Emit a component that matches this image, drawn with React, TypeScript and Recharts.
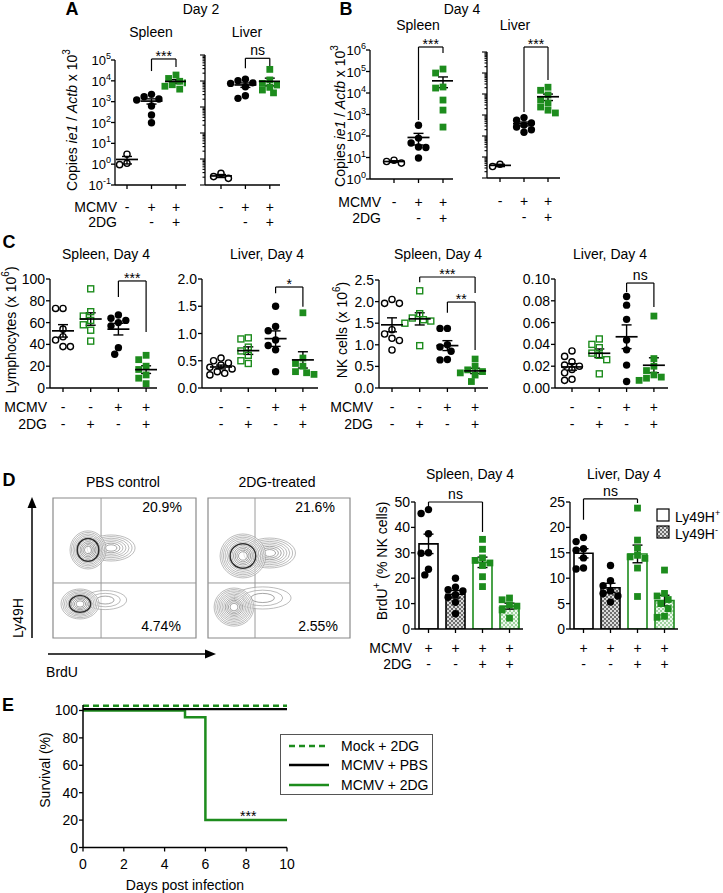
import React from 'react';
import {
  ComposedChart, LineChart, Line, Scatter, Bar, Cell, XAxis, YAxis, ErrorBar,
  ReferenceLine, ReferenceDot, ReferenceArea, Legend,
} from 'recharts';

const FONT = "'Liberation Sans', Arial, Helvetica, sans-serif";
const GREEN = '#1d8c1d';

// ---------------- Panel A (Day 2, copies ie1/Actb x10^3) ----------------
const aSpleenUninfected = [3.0, 1.1, 0.95];
const aSpleenMcmv = [2240, 1730, 1340, 1200, 620, 230, 97];
const aSpleenMcmv2dg = [19000, 13000, 9500, 8000, 6500, 5500, 4000];
const aLiverUninfected = [2.8, 2.1, 1.8];
const aLiverMcmv = [11700, 10200, 8500, 8100, 6000, 2700, 2150];
const aLiverMcmv2dg = [28000, 11000, 8100, 7000, 5700, 4500, 3500];
const abMcmvSigns = ['-', '+', '+'];
const ab2dgSigns = ['', '-', '+'];

// ---------------- Panel B (Day 4) ----------------
const bSpleenUninfected = [5.5, 6.5, 7.5];
const bSpleenMcmv = [316, 80, 47, 31, 29, 9.5];
const bSpleenMcmv2dg = [130000, 85000, 19000, 17000, 4700, 1600, 260];
const bLiverUninfected = [4.5, 3.5];
const bLiverMcmv = [750, 560, 420, 330, 270, 200, 150];
const bLiverMcmv2dg = [21000, 15000, 9000, 5200, 3700, 2400, 1700, 1250];

// ---------------- Panel C ----------------
const cMcmvSigns = ['-', '-', '+', '+'];
const c2dgSigns = ['-', '+', '-', '+'];
const cSpleenLymph = {
  pbs: [73, 73, 54, 47, 44, 38, 38],
  dg: [91, 70, 66, 62, 58, 53, 43],
  mcmv: [67, 64, 62, 60, 57, 37, 31],
  mcmvDg: [30, 26, 20, 17, 12, 9, 4],
};
const cLiverLymph = {
  pbs: [0.55, 0.5, 0.46, 0.42, 0.38, 0.35, 0.3, 0.27, 0.24],
  dg: [0.92, 0.9, 0.75, 0.68, 0.6, 0.5, 0.45],
  mcmv: [1.5, 1.13, 1.05, 0.88, 0.78, 0.7, 0.3],
  mcmvDg: [1.38, 0.55, 0.45, 0.4, 0.3, 0.28, 0.25],
};
const cSpleenNk = {
  pbs: [2.05, 1.96, 1.96, 1.35, 1.25, 1.15, 1.1, 0.88],
  dg: [2.25, 1.72, 1.62, 1.58, 1.55, 1.5, 0.98],
  mcmv: [1.38, 1.38, 1.0, 0.95, 0.85, 0.66, 0.65],
  mcmvDg: [0.67, 0.5, 0.42, 0.38, 0.35, 0.3, 0.15],
};
const cLiverNk = {
  pbs: [0.034, 0.029, 0.024, 0.021, 0.02, 0.017, 0.014, 0.008, 0.007],
  dg: [0.045, 0.04, 0.037, 0.032, 0.03, 0.026, 0.013],
  mcmv: [0.084, 0.076, 0.063, 0.044, 0.035, 0.021, 0.006],
  mcmvDg: [0.066, 0.027, 0.02, 0.016, 0.012, 0.01, 0.009, 0.007],
};

// ---------------- Panel D ----------------
const pbsPopulations = [
  { x: 40.6, y: 64.3, rx: 16.8, ry: 9.3, rings: 7, dark: false },
  { x: 24.5, y: 62.9, rx: 12.6, ry: 13.6, rings: 11, dark: true },
  { x: 36.5, y: 27.1, rx: 15, ry: 6.8, rings: 3, dark: false },
  { x: 18.9, y: 24.3, rx: 13.3, ry: 10.7, rings: 10, dark: true },
];
const dgPopulations = [
  { x: 43.4, y: 60.7, rx: 18.2, ry: 10.7, rings: 8, dark: false },
  { x: 24.6, y: 58.6, rx: 16.1, ry: 15.7, rings: 12, dark: true },
  { x: 38.5, y: 28.6, rx: 20, ry: 7.9, rings: 3, dark: false },
  { x: 18.3, y: 22.1, rx: 14, ry: 13.6, rings: 11, dark: false },
];
const flowPercents = { pbsUpper: '20.9%', pbsLower: '4.74%', dgUpper: '21.6%', dgLower: '2.55%' };
const dMcmvSigns = ['+', '+', '+', '+'];
const d2dgSigns = ['-', '-', '+', '+'];
const dSpleenBrdu = {
  hPos: [47, 45.5, 37.5, 30, 29.8, 23.5, 21.3],
  hNeg: [20, 16.5, 15.5, 15, 13.5, 12.5, 10.5, 6],
  hPosDg: [35.3, 31.4, 28, 27, 26, 25, 20.6, 16.7],
  hNegDg: [12.2, 11.5, 9.5, 9, 7.5, 4.3],
};
const dLiverBrdu = {
  hPos: [18, 17.2, 15.8, 15.5, 14, 12, 11.8],
  hNeg: [12.5, 9.5, 8.5, 7.5, 7, 6.5, 5.3],
  hPosDg: [23.8, 17.5, 15.9, 14.5, 14.2, 13.9, 12, 6.4],
  hNegDg: [11.6, 7, 6.5, 5.8, 5, 4, 2.5, 2.3],
};

// ---------------- Panel E ----------------
const survMock2dg = [{ d: 0, s: 103.5 }, { d: 10, s: 103.5 }];
const survMcmvPbs = [{ d: 0, s: 101 }, { d: 10, s: 101 }];
const survMcmv2dg = [{ d: 0, s: 100 }, { d: 5, s: 95 }, { d: 6, s: 20 }, { d: 10, s: 20 }];
const survTicksX = [0, 2, 4, 6, 8, 10];
const survTicksY = [0, 20, 40, 60, 80, 100];

// ---------------- helpers ----------------
const mean = (a: number[]) => a.reduce((s, v) => s + v, 0) / a.length;
const sem = (a: number[]) => {
  const m = mean(a);
  return Math.sqrt(a.reduce((s, v) => s + (v - m) ** 2, 0) / (a.length - 1)) / Math.sqrt(a.length);
};

function swarm(values: number[], toPx: (v: number) => number, d: number) {
  const order = values.map((_, i) => i).sort((a, b) => values[b] - values[a]);
  const placed: { o: number; p: number }[] = [];
  const offs = values.map(() => 0);
  const cands: number[] = [0];
  for (let k = 1; k <= 12; k++) cands.push(-k * d * 0.5, k * d * 0.5);
  order.forEach((i) => {
    const p = toPx(values[i]);
    const o = cands.find((c) => placed.every((q) => (q.o - c) ** 2 + (q.p - p) ** 2 >= d * d * 0.8));
    const oo = o === undefined ? 0 : o;
    offs[i] = oo;
    placed.push({ o: oo, p });
  });
  return offs;
}

function logTicks(lo: number, hi: number, minor: boolean) {
  const out: number[] = [];
  const e0 = Math.round(Math.log10(lo));
  const e1 = Math.round(Math.log10(hi));
  for (let e = e0; e <= e1; e++) {
    out.push(Math.pow(10, e));
    if (minor && e < e1) for (let k = 2; k <= 9; k++) out.push(k * Math.pow(10, e));
  }
  return out;
}

function marker(kind: string, color: string, cx: number, cy: number) {
  if (kind === 'fc') return <circle cx={cx} cy={cy} r={3.7} fill={color} />;
  if (kind === 'oc') return <circle cx={cx} cy={cy} r={3.1} fill="none" stroke={color} strokeWidth={1.4} />;
  if (kind === 'fs') return <rect x={cx - 3.4} y={cy - 3.4} width={6.8} height={6.8} fill={color} />;
  return <rect x={cx - 3} y={cy - 3} width={6} height={6} fill="none" stroke={color} strokeWidth={1.4} />;
}

const SignTick = (p: any) => {
  const { x, y, payload, rows, rowDy } = p;
  const i = Math.round(payload.value) - 1;
  return (
    <g>
      <line x1={x} x2={x} y1={y} y2={y + 4} stroke="#000" strokeWidth={1.3} />
      {rows.map((r: string[], k: number) => (
        <text key={k} x={x} y={y + rowDy[k]} textAnchor="middle" dominantBaseline="central"
          fontSize={14} fontFamily={FONT} fill="#000">{r[i]}</text>
      ))}
    </g>
  );
};

const ValueTick = (p: any) => {
  const { x, y, payload, kind, decimals, fontSize } = p;
  const v = payload.value;
  if (kind === 'minor') {
    const lv = Math.log10(v);
    const major = Math.abs(lv - Math.round(lv)) < 1e-6;
    return <line x1={x} x2={x - (major ? 5 : 2.5)} y1={y} y2={y} stroke="#000" strokeWidth={1.1} />;
  }
  if (kind === 'pow') {
    const e = Math.round(Math.log10(v));
    return (
      <g>
        <line x1={x} x2={x - 4} y1={y} y2={y} stroke="#000" strokeWidth={1.3} />
        <text x={x - 4} y={y + 5} textAnchor="end" fontSize={13} fontFamily={FONT} fill="#000">
          10<tspan dy={-6} fontSize={9}>{e}</tspan>
        </text>
      </g>
    );
  }
  return (
    <g>
      <line x1={x} x2={x - 4} y1={y} y2={y} stroke="#000" strokeWidth={1.3} />
      <text x={x - 5} y={y} textAnchor="end" dominantBaseline="central" fontSize={fontSize || 14}
        fontFamily={FONT} fill="#000">{v.toFixed(decimals || 0)}</text>
    </g>
  );
};

function bracketElements(brackets: any[], prefix: string) {
  const st = { stroke: '#000', strokeWidth: 1.2 };
  return brackets.flatMap((b, i) => [
    <ReferenceLine key={prefix + 'h' + i} segment={[{ x: b.from, y: b.top }, { x: b.to, y: b.top }]} {...st} ifOverflow="visible" />,
    <ReferenceLine key={prefix + 'l' + i} segment={[{ x: b.from, y: b.top }, { x: b.from, y: b.fromEnd }]} {...st} ifOverflow="visible" />,
    <ReferenceLine key={prefix + 'r' + i} segment={[{ x: b.to, y: b.top }, { x: b.to, y: b.toEnd }]} {...st} ifOverflow="visible" />,
    <ReferenceDot key={prefix + 't' + i} x={(b.from + b.to) / 2} y={b.top} r={0} ifOverflow="visible"
      shape={(p: any) => (
        <text x={p.cx} y={p.cy + (b.label.indexOf('*') >= 0 ? 2 : -3)} textAnchor="middle" fontSize={14}
          fontFamily={FONT} fill="#000">{b.label}</text>
      )} />,
  ]);
}

const AX = { stroke: '#000', strokeWidth: 1.3 };

function DotPlot(props: any) {
  const { left, top, width, height, c1, step, groups, domain, log, tickKind, decimals, rows, rowDy, brackets, id } = props;
  const YW = 70, XH = 60, MT = 40, MR = 10;
  const xmin = 1 - (c1 - left) / step;
  const xmax = 1 + (left + width - c1) / step;
  const toPx = (v: number) => log
    ? (Math.log10(v) - Math.log10(domain[0])) / (Math.log10(domain[1]) - Math.log10(domain[0])) * height
    : (v - domain[0]) / (domain[1] - domain[0]) * height;
  const series = groups.map((g: any, i: number) => {
    const offs = swarm(g.values, toPx, 7.4);
    return g.values.map((v: number, j: number) => ({ x: i + 1 + offs[j] / step, y: v }));
  });
  const means = groups.map((g: any, i: number) => {
    const m = mean(g.values);
    const s = sem(g.values);
    return { x: i + 1, y: m, err: log ? [Math.min(s, m * 0.9), s] : s };
  });
  const yTicks = log ? logTicks(domain[0], domain[1], tickKind === 'minor') : props.ticks;
  return (
    <div style={{ position: 'absolute', left: left - YW, top: top - MT }}>
      <ComposedChart width={YW + width + MR} height={MT + height + XH} margin={{ top: MT, right: MR, bottom: 0, left: 0 }}>
        <XAxis type="number" dataKey="x" domain={[xmin, xmax]} allowDataOverflow ticks={groups.map((_: any, i: number) => i + 1)}
          interval={0} height={XH} tickSize={0} tickMargin={0} axisLine={AX}
          tick={(p: any) => <SignTick {...p} rows={rows} rowDy={rowDy} />} />
        <YAxis type="number" dataKey="y" width={YW} scale={log ? 'log' : 'linear'} domain={domain} allowDataOverflow
          ticks={yTicks} interval={0} tickSize={0} tickMargin={0} axisLine={AX}
          tick={(p: any) => <ValueTick {...p} kind={tickKind} decimals={decimals} />} />
        {series.map((data: any[], i: number) => (
          <Scatter key={id + 's' + i} data={data} isAnimationActive={false}
            shape={(p: any) => marker(groups[i].marker, groups[i].color, p.cx, p.cy)} />
        ))}
        <Scatter data={means} isAnimationActive={false}
          shape={(p: any) => <line x1={p.cx - 11} x2={p.cx + 11} y1={p.cy} y2={p.cy} stroke="#000" strokeWidth={1.7} />}>
          <ErrorBar dataKey="err" direction="y" width={5} stroke="#000" strokeWidth={1.4} isAnimationActive={false} />
        </Scatter>
        {bracketElements(brackets, id)}
      </ComposedChart>
    </div>
  );
}

function BarPlot(props: any) {
  const { left, top, width, height, bars, domain, ticks, rows, rowDy, brackets, id, legend } = props;
  const YW = 70, XH = 60, MT = 40, MR = legend ? 50 : 10;
  const step = width / bars.length;
  const toPx = (v: number) => (v - domain[0]) / (domain[1] - domain[0]) * height;
  const barData = bars.map((b: any, i: number) => ({ name: String(i + 1), x: i + 1, y: mean(b.values) }));
  const series = bars.map((b: any, i: number) => {
    const offs = swarm(b.values, toPx, 7.4);
    return b.values.map((v: number, j: number) => ({ x: i + 1 + offs[j] / step, y: v }));
  });
  const errs = bars.map((b: any, i: number) => ({ x: i + 1, y: mean(b.values), err: sem(b.values) }));
  return (
    <div style={{ position: 'absolute', left: left - YW, top: top - MT }}>
      <ComposedChart width={YW + width + MR} height={MT + height + XH} data={barData}
        margin={{ top: MT, right: MR, bottom: 0, left: 0 }} barCategoryGap={0}>
        <XAxis xAxisId="cat" type="category" dataKey="name" hide />
        <XAxis type="number" dataKey="x" domain={[0.5, bars.length + 0.5]} allowDataOverflow ticks={bars.map((_: any, i: number) => i + 1)}
          interval={0} height={XH} tickSize={0} tickMargin={0} axisLine={AX}
          tick={(p: any) => <SignTick {...p} rows={rows} rowDy={rowDy} />} />
        <YAxis type="number" dataKey="y" width={YW} domain={domain} allowDataOverflow ticks={ticks} interval={0}
          tickSize={0} tickMargin={0} axisLine={AX} tick={(p: any) => <ValueTick {...p} kind="fixed" decimals={0} />} />
        <Bar xAxisId="cat" dataKey="y" barSize={19} isAnimationActive={false}>
          {bars.map((b: any, i: number) => <Cell key={i} fill={b.fill} stroke={b.stroke} strokeWidth={1.6} />)}
        </Bar>
        {series.map((data: any[], i: number) => (
          <Scatter key={id + 's' + i} data={data} isAnimationActive={false}
            shape={(p: any) => marker(bars[i].marker, bars[i].color, p.cx, p.cy)} />
        ))}
        <Scatter data={errs} isAnimationActive={false} shape={() => <g />}>
          <ErrorBar dataKey="err" direction="y" width={5} stroke="#000" strokeWidth={1.4} isAnimationActive={false} />
        </Scatter>
        {bracketElements(brackets, id)}
        {legend ? (
          <Legend layout="vertical" align="center" verticalAlign="middle"
            wrapperStyle={{ left: legend.left, top: legend.top, width: 70, height: 36 }}
            content={() => (
              <div style={{ fontFamily: FONT, fontSize: 14, lineHeight: '18px' }}>
                {legend.items.map((it: any, k: number) => (
                  <div key={k} style={{ display: 'flex', alignItems: 'center', height: 17 }}>
                    <svg width={15} height={14} style={{ marginRight: 4 }}>
                      <rect x={1} y={1} width={12} height={12} fill={it.fill} stroke="#000" strokeWidth={1.2} />
                    </svg>
                    <span>{it.name}<sup style={{ fontSize: 9 }}>{it.sup}</sup></span>
                  </div>
                ))}
              </div>
            )} />
        ) : null}
      </ComposedChart>
    </div>
  );
}

const flowTicks = [10, 35, 60, 85].flatMap((b) => [b, ...[2, 3, 4, 5, 6, 7, 8, 9].map((k) => b + 25 * Math.log10(k))]).filter((t) => t < 100);

const contourShape = (pxX: number, pxY: number) => (p: any) => {
  const { cx, cy, payload } = p;
  const { rx, ry, rings, dark } = payload;
  const darkIdx = Math.round(rings * 0.5);
  const els: any[] = [];
  for (let k = rings; k >= 1; k--) {
    const s = 0.12 + 0.88 * (k / rings);
    const isDark = dark && k === darkIdx;
    const inner = k <= rings * 0.4;
    els.push(
      <ellipse key={k} cx={cx} cy={cy} rx={rx * pxX * s} ry={ry * pxY * s} fill={k === rings ? '#fff' : 'none'}
        fillOpacity={0.6}
        stroke={isDark ? '#2e2e2e' : inner ? '#6a6a6a' : '#8e8e8e'} strokeWidth={isDark ? 1.5 : 0.6} />
    );
  }
  return <g>{els}</g>;
};

function FlowPlot(props: any) {
  const { left, top, width, height, populations, gateX, gateY } = props;
  const M = 6;
  return (
    <div style={{ position: 'absolute', left: left - M, top: top - M }}>
      <ComposedChart width={width + 2 * M} height={height + 2 * M} margin={{ top: M, right: M, bottom: M, left: M }}>
        <XAxis type="number" dataKey="x" domain={[0, 100]} allowDataOverflow height={0} axisLine={false}
          ticks={flowTicks} interval={0} tickSize={0} tickMargin={0}
          tick={(p: any) => <line x1={p.x} x2={p.x} y1={p.y} y2={p.y + 3} stroke="#777" strokeWidth={0.8} />} />
        <YAxis type="number" dataKey="y" domain={[0, 100]} allowDataOverflow width={0} axisLine={false}
          ticks={flowTicks} interval={0} tickSize={0} tickMargin={0}
          tick={(p: any) => <line x1={p.x} x2={p.x - 3} y1={p.y} y2={p.y} stroke="#777" strokeWidth={0.8} />} />
        <ReferenceArea x1={0} x2={100} y1={0} y2={100} fill="none" stroke="#8a8a8a" strokeWidth={1.2} ifOverflow="visible" />
        <ReferenceLine x={gateX} stroke="#9a9a9a" strokeWidth={1} />
        <ReferenceLine y={gateY} stroke="#9a9a9a" strokeWidth={1} />
        <Scatter data={populations} isAnimationActive={false} shape={contourShape(width / 100, height / 100)} />
      </ComposedChart>
    </div>
  );
}

const survSeries = [
  { name: 'Mock + 2DG', data: survMock2dg, color: GREEN, dash: '6 4' },
  { name: 'MCMV + PBS', data: survMcmvPbs, color: '#000', dash: undefined },
  { name: 'MCMV + 2DG', data: survMcmv2dg, color: GREEN, dash: undefined },
];

function SurvivalPlot() {
  const left = 83, top = 704.5, width = 204, height = 142.5;
  const YW = 60, XH = 60, MT = 20, MR = 170;
  return (
    <div style={{ position: 'absolute', left: left - YW, top: top - MT }}>
      <LineChart width={YW + width + MR} height={MT + height + XH} margin={{ top: MT, right: MR, bottom: 0, left: 0 }}>
        <XAxis type="number" dataKey="d" domain={[0, 10]} ticks={survTicksX} interval={0} height={XH}
          tickSize={0} tickMargin={0} axisLine={{ stroke: '#000', strokeWidth: 1.5 }}
          tick={(p: any) => (
            <g>
              <line x1={p.x} x2={p.x} y1={p.y} y2={p.y + 4} stroke="#000" strokeWidth={1.3} />
              <text x={p.x} y={p.y + 16} textAnchor="middle" dominantBaseline="central" fontSize={14} fontFamily={FONT}>{p.payload.value}</text>
            </g>
          )} />
        <YAxis type="number" domain={[0, 104]} ticks={survTicksY} interval={0} width={YW} tickSize={0} tickMargin={0}
          axisLine={{ stroke: '#000', strokeWidth: 1.5 }}
          tick={(p: any) => <ValueTick {...p} kind="fixed" decimals={0} />} />
        {[2, 1, 0].map((k) => (
          <Line key={k} data={survSeries[k].data} dataKey="s" type="stepAfter" stroke={survSeries[k].color}
            strokeWidth={k === 1 ? 2.2 : 2.5} strokeDasharray={survSeries[k].dash} dot={false} isAnimationActive={false} />
        ))}
        <ReferenceDot x={8.1} y={20} r={0} ifOverflow="visible"
          shape={(p: any) => <text x={p.cx} y={p.cy + 1} textAnchor="middle" fontSize={14} fontFamily={FONT}>***</text>} />
        <Legend layout="vertical" align="center" verticalAlign="middle"
          wrapperStyle={{ left: 257, top: 49.5, width: 153, height: 61 }}
          content={() => (
            <div style={{ width: 153, height: 61, border: '1.2px solid #555', boxSizing: 'border-box', background: '#fff',
              fontFamily: FONT, fontSize: 14, paddingTop: 1 }}>
              {survSeries.map((s, k) => (
                <div key={k} style={{ display: 'flex', alignItems: 'center', height: 19.5 }}>
                  <svg width={50} height={10} style={{ marginLeft: 6, marginRight: 4 }}>
                    <line x1={2} x2={42} y1={5} y2={5} stroke={s.color} strokeWidth={2.5} strokeDasharray={s.dash} />
                  </svg>
                  <span>{s.name}</span>
                </div>
              ))}
            </div>
          )} />
      </LineChart>
    </div>
  );
}

function T(props: any) {
  const { x, y, children, anchor, size, bold, rotate } = props;
  return (
    <text x={x} y={y} textAnchor={anchor || 'middle'} dominantBaseline="central" fontSize={size || 14}
      fontWeight={bold ? 'bold' : 'normal'} fontFamily={FONT} fill="#000"
      transform={rotate ? `rotate(-90 ${x} ${y})` : undefined}>{children}</text>
  );
}

const groups4 = (d: any) => [
  { values: d.pbs, marker: 'oc', color: '#000' },
  { values: d.dg, marker: 'os', color: GREEN },
  { values: d.mcmv, marker: 'fc', color: '#000' },
  { values: d.mcmvDg, marker: 'fs', color: GREEN },
];
const bars4 = (d: any) => [
  { values: d.hPos, marker: 'fc', color: '#000', fill: '#fff', stroke: '#000' },
  { values: d.hNeg, marker: 'fc', color: '#000', fill: 'url(#chkGray)', stroke: '#000' },
  { values: d.hPosDg, marker: 'fs', color: GREEN, fill: '#fff', stroke: GREEN },
  { values: d.hNegDg, marker: 'fs', color: GREEN, fill: 'url(#chkGreen)', stroke: GREEN },
];

export default function App() {
  const abRows = [abMcmvSigns, ab2dgSigns];
  const cRows = [cMcmvSigns, c2dgSigns];
  const dRows = [dMcmvSigns, d2dgSigns];
  return (
    <div style={{ position: 'absolute', left: 0, top: 0, width: 723, height: 893, background: '#fff', overflow: 'hidden', fontFamily: FONT }}>
      <svg width={0} height={0} style={{ position: 'absolute' }}>
        <defs>
          <pattern id="chkGray" width={4} height={4} patternUnits="userSpaceOnUse">
            <rect width={4} height={4} fill="#dcdcdc" />
            <rect width={2} height={2} fill="#6e6e6e" />
            <rect x={2} y={2} width={2} height={2} fill="#6e6e6e" />
          </pattern>
          <pattern id="chkGreen" width={4} height={4} patternUnits="userSpaceOnUse">
            <rect width={4} height={4} fill="#eef8ee" />
            <rect width={2} height={2} fill="#9fd29f" />
            <rect x={2} y={2} width={2} height={2} fill="#9fd29f" />
          </pattern>
        </defs>
      </svg>

      {/* Panel A */}
      <DotPlot id="as" left={115} top={60} width={71} height={125} c1={127} step={24.5} log domain={[0.1, 1e5]} tickKind="pow"
        groups={[
          { values: aSpleenUninfected, marker: 'oc', color: '#000' },
          { values: aSpleenMcmv, marker: 'fc', color: '#000' },
          { values: aSpleenMcmv2dg, marker: 'fs', color: GREEN },
        ]}
        rows={abRows} rowDy={[22, 37]}
        brackets={[{ from: 2, to: 3, top: 1.12e5, fromEnd: 29500, toEnd: 46000, label: '***' }]} />
      <DotPlot id="al" left={205} top={55} width={75} height={130} c1={221} step={24.4} log domain={[1, 1e5]} tickKind="minor"
        groups={[
          { values: aLiverUninfected, marker: 'oc', color: '#000' },
          { values: aLiverMcmv, marker: 'fc', color: '#000' },
          { values: aLiverMcmv2dg, marker: 'fs', color: GREEN },
        ]}
        rows={abRows} rowDy={[22, 37]}
        brackets={[{ from: 2, to: 3, top: 74600, fromEnd: 31000, toEnd: 33700, label: 'ns' }]} />

      {/* Panel B */}
      <DotPlot id="bs" left={370} top={50} width={83} height={129} c1={394} step={24.5} log domain={[1, 1e6]} tickKind="pow"
        groups={[
          { values: bSpleenUninfected, marker: 'oc', color: '#000' },
          { values: bSpleenMcmv, marker: 'fc', color: '#000' },
          { values: bSpleenMcmv2dg, marker: 'fs', color: GREEN },
        ]}
        rows={abRows} rowDy={[23, 39]}
        brackets={[{ from: 2, to: 3, top: 1.38e6, fromEnd: 550, toEnd: 7.2e5, label: '***' }]} />
      <DotPlot id="bl" left={487} top={52} width={73} height={126} c1={500} step={24} log domain={[1, 1e6]} tickKind="minor"
        groups={[
          { values: bLiverUninfected, marker: 'oc', color: '#000' },
          { values: bLiverMcmv, marker: 'fc', color: '#000' },
          { values: bLiverMcmv2dg, marker: 'fs', color: GREEN },
        ]}
        rows={abRows} rowDy={[23, 39]}
        brackets={[{ from: 2, to: 3, top: 1.73e6, fromEnd: 1400, toEnd: 46000, label: '***' }]} />

      {/* Panel C */}
      <DotPlot id="c1" left={50} top={279} width={107} height={109} c1={63} step={27.7} domain={[0, 100]}
        ticks={[0, 20, 40, 60, 80, 100]} tickKind="fixed" decimals={0} groups={groups4(cSpleenLymph)}
        rows={cRows} rowDy={[19, 36]}
        brackets={[{ from: 3, to: 4, top: 98.2, fromEnd: 83.5, toEnd: 51.4, label: '***' }]} />
      <DotPlot id="c2" left={202} top={279} width={116} height={109} c1={221} step={27.3} domain={[0, 2]}
        ticks={[0, 0.5, 1, 1.5, 2]} tickKind="fixed" decimals={1} groups={groups4(cLiverLymph)}
        rows={cRows} rowDy={[19, 36]}
        brackets={[{ from: 3, to: 4, top: 1.853, fromEnd: 1.74, toEnd: 1.49, label: '*' }]} />
      <DotPlot id="c3" left={379} top={280} width={109} height={108} c1={392} step={27.7} domain={[0, 2.5]}
        ticks={[0, 0.5, 1, 1.5, 2, 2.5]} tickKind="fixed" decimals={1} groups={groups4(cSpleenNk)}
        rows={cRows} rowDy={[19, 36]}
        brackets={[
          { from: 2, to: 4, top: 2.57, fromEnd: 2.45, toEnd: 2.2, label: '***' },
          { from: 3, to: 4, top: 1.99, fromEnd: 1.74, toEnd: 0.88, label: '**' },
        ]} />
      <DotPlot id="c4" left={555} top={279} width={113} height={109} c1={572} step={27.3} domain={[0, 0.1]}
        ticks={[0, 0.02, 0.04, 0.06, 0.08, 0.1]} tickKind="fixed" decimals={2} groups={groups4(cLiverNk)}
        rows={cRows} rowDy={[19, 36]}
        brackets={[{ from: 3, to: 4, top: 0.0963, fromEnd: 0.088, toEnd: 0.0743, label: 'ns' }]} />

      {/* Panel D */}
      <FlowPlot left={53} top={498} width={143} height={140} populations={pbsPopulations} gateX={33.6} gateY={39.3} />
      <FlowPlot left={208} top={498} width={142} height={140} populations={dgPopulations} gateX={33.1} gateY={39.3} />
      <BarPlot id="d1" left={415} top={502} width={108} height={127} domain={[0, 50]}
        ticks={[0, 10, 20, 30, 40, 50]} bars={bars4(dSpleenBrdu)} rows={dRows} rowDy={[19, 35]}
        brackets={[{ from: 1, to: 3, top: 50, fromEnd: 47.6, toEnd: 38.2, label: 'ns' }]} />
      <BarPlot id="d2" left={570} top={502} width={108} height={127} domain={[0, 25]}
        ticks={[0, 5, 10, 15, 20, 25]} bars={bars4(dLiverBrdu)} rows={dRows} rowDy={[19, 35]}
        brackets={[{ from: 1, to: 3, top: 25.6, fromEnd: 21.5, toEnd: 24.8, label: 'ns' }]}
        legend={{
          left: 156, top: 44,
          items: [
            { name: 'Ly49H', sup: '+', fill: '#fff' },
            { name: 'Ly49H', sup: '-', fill: 'url(#chkGray)' },
          ],
        }} />

      {/* Panel E */}
      <SurvivalPlot />

      {/* Text overlay */}
      <svg width={723} height={893} style={{ position: 'absolute', left: 0, top: 0, pointerEvents: 'none' }}>
        {/* A */}
        <T x={72} y={9} size={18} bold>A</T>
        <T x={201} y={9}>Day 2</T>
        <T x={151} y={32}>Spleen</T>
        <T x={247} y={32}>Liver</T>
        <T x={72} y={120} rotate>Copies <tspan fontStyle="italic">ie1</tspan> / <tspan fontStyle="italic">Actb</tspan> x 10<tspan dy={-6} fontSize={10}>3</tspan></T>
        <T x={117} y={207} anchor="end">MCMV</T>
        <T x={117} y={222} anchor="end">2DG</T>
        {/* B */}
        <T x={346} y={9} size={18} bold>B</T>
        <T x={462} y={9}>Day 4</T>
        <T x={418} y={25}>Spleen</T>
        <T x={515} y={25}>Liver</T>
        <T x={340} y={116} rotate>Copies <tspan fontStyle="italic">ie1</tspan> / <tspan fontStyle="italic">Actb</tspan> x 10<tspan dy={-6} fontSize={10}>3</tspan></T>
        <T x={381} y={202} anchor="end">MCMV</T>
        <T x={381} y={218} anchor="end">2DG</T>
        {/* C */}
        <T x={9} y={242} size={18} bold>C</T>
        <T x={106} y={254}>Spleen,  Day 4</T>
        <T x={267} y={254}>Liver,  Day 4</T>
        <T x={438} y={254}>Spleen, Day 4</T>
        <T x={610} y={254}>Liver, Day 4</T>
        <T x={11} y={330} rotate>Lymphocytes (x 10<tspan dy={-6} fontSize={10}>6</tspan><tspan dy={6}>)</tspan></T>
        <T x={47} y={407} anchor="end">MCMV</T>
        <T x={47} y={424} anchor="end">2DG</T>
        <T x={342} y={330} rotate>NK cells (x 10<tspan dy={-6} fontSize={10}>6</tspan><tspan dy={6}>)</tspan></T>
        <T x={373} y={407} anchor="end">MCMV</T>
        <T x={373} y={424} anchor="end">2DG</T>
        {/* D */}
        <T x={9} y={480} size={18} bold>D</T>
        <T x={123} y={482}>PBS control</T>
        <T x={277} y={482}>2DG-treated</T>
        <T x={162} y={507}>{flowPercents.pbsUpper}</T>
        <T x={161} y={626}>{flowPercents.pbsLower}</T>
        <T x={315} y={507}>{flowPercents.dgUpper}</T>
        <T x={318} y={626}>{flowPercents.dgLower}</T>
        <T x={18} y={618} rotate>Ly49H</T>
        <line x1={32} x2={32} y1={638} y2={506} stroke="#000" strokeWidth={1.5} />
        <polygon points="32,497 27.5,508 36.5,508" fill="#000" />
        <line x1={48} x2={207} y1={654} y2={654} stroke="#000" strokeWidth={1.5} />
        <polygon points="216,654 205,649.5 205,658.5" fill="#000" />
        <T x={62} y={672}>BrdU</T>
        <T x={470} y={474}>Spleen,  Day 4</T>
        <T x={624} y={474}>Liver,  Day 4</T>
        <T x={382} y={561} rotate>BrdU<tspan dy={-6} fontSize={10}>+</tspan><tspan dy={6}> (% NK cells)</tspan></T>
        <T x={412} y={648} anchor="end">MCMV</T>
        <T x={412} y={664} anchor="end">2DG</T>
        {/* E */}
        <T x={8} y={705} size={18} bold>E</T>
        <T x={45} y={770} rotate>Survival  (%)</T>
        <T x={185} y={885}>Days post infection</T>
      </svg>
    </div>
  );
}
